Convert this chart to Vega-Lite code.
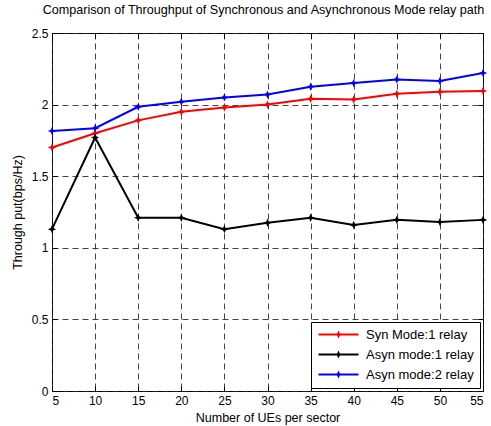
{
  "$schema": "https://vega.github.io/schema/vega-lite/v6.json",
  "width": 431,
  "height": 358,
  "autosize": {"type": "none"},
  "padding": {"left": 52, "top": 33, "right": 8, "bottom": 35},
  "background": "white",
  "title": {
    "text": "Comparison of Throughput of Synchronous and Asynchronous Mode relay path",
    "font": "Liberation Sans",
    "fontSize": 12.6,
    "fontWeight": "normal",
    "color": "black",
    "offset": 10,
    "dx": -4,
    "anchor": "middle"
  },
  "config": {
    "view": {"stroke": "black", "strokeWidth": 1},
    "font": "Liberation Sans",
    "axis": {
      "labelFont": "Liberation Sans",
      "labelFontSize": 12,
      "labelColor": "black",
      "titleFont": "Liberation Sans",
      "titleFontSize": 12.5,
      "titleFontWeight": "normal",
      "titleColor": "black",
      "domain": false,
      "ticks": true,
      "tickColor": "black",
      "tickSize": -5,
      "tickWidth": 1,
      "gridColor": "#222222",
      "gridDash": [6, 4],
      "gridWidth": 1,
      "gridOpacity": 0.85
    }
  },
  "data": {
    "values": [
      {"ue": 5, "series": "Syn Mode:1 relay", "tp": 1.70},
      {"ue": 10, "series": "Syn Mode:1 relay", "tp": 1.80},
      {"ue": 15, "series": "Syn Mode:1 relay", "tp": 1.89},
      {"ue": 20, "series": "Syn Mode:1 relay", "tp": 1.95},
      {"ue": 25, "series": "Syn Mode:1 relay", "tp": 1.98},
      {"ue": 30, "series": "Syn Mode:1 relay", "tp": 2.00},
      {"ue": 35, "series": "Syn Mode:1 relay", "tp": 2.04},
      {"ue": 40, "series": "Syn Mode:1 relay", "tp": 2.035},
      {"ue": 45, "series": "Syn Mode:1 relay", "tp": 2.075},
      {"ue": 50, "series": "Syn Mode:1 relay", "tp": 2.09},
      {"ue": 55, "series": "Syn Mode:1 relay", "tp": 2.095},
      {"ue": 5, "series": "Asyn mode:1 relay", "tp": 1.13},
      {"ue": 10, "series": "Asyn mode:1 relay", "tp": 1.77},
      {"ue": 15, "series": "Asyn mode:1 relay", "tp": 1.21},
      {"ue": 20, "series": "Asyn mode:1 relay", "tp": 1.21},
      {"ue": 25, "series": "Asyn mode:1 relay", "tp": 1.13},
      {"ue": 30, "series": "Asyn mode:1 relay", "tp": 1.175},
      {"ue": 35, "series": "Asyn mode:1 relay", "tp": 1.21},
      {"ue": 40, "series": "Asyn mode:1 relay", "tp": 1.16},
      {"ue": 45, "series": "Asyn mode:1 relay", "tp": 1.195},
      {"ue": 50, "series": "Asyn mode:1 relay", "tp": 1.18},
      {"ue": 55, "series": "Asyn mode:1 relay", "tp": 1.195},
      {"ue": 5, "series": "Asyn mode:2 relay", "tp": 1.815},
      {"ue": 10, "series": "Asyn mode:2 relay", "tp": 1.835},
      {"ue": 15, "series": "Asyn mode:2 relay", "tp": 1.985},
      {"ue": 20, "series": "Asyn mode:2 relay", "tp": 2.02},
      {"ue": 25, "series": "Asyn mode:2 relay", "tp": 2.05},
      {"ue": 30, "series": "Asyn mode:2 relay", "tp": 2.07},
      {"ue": 35, "series": "Asyn mode:2 relay", "tp": 2.125},
      {"ue": 40, "series": "Asyn mode:2 relay", "tp": 2.15},
      {"ue": 45, "series": "Asyn mode:2 relay", "tp": 2.175},
      {"ue": 50, "series": "Asyn mode:2 relay", "tp": 2.165},
      {"ue": 55, "series": "Asyn mode:2 relay", "tp": 2.22}
    ]
  },
  "encoding": {
    "color": {
      "field": "series",
      "type": "nominal",
      "scale": {
        "domain": ["Syn Mode:1 relay", "Asyn mode:1 relay", "Asyn mode:2 relay"],
        "range": ["#ff0000", "#000000", "#0000ff"]
      },
      "legend": {
        "title": null,
        "orient": "bottom-right",
        "offset": 3,
        "strokeColor": "black",
        "fillColor": "white",
        "padding": 6,
        "labelFont": "Liberation Sans",
        "labelFontSize": 13,
        "labelColor": "black",
        "labelOffset": 36,
        "rowPadding": 6,
        "symbolType": "M-1,-0.2L7,-0.2L7,0.2L-1,0.2Z M3,-0.8L3.25,-0.25L3.8,0L3.25,0.25L3,0.8L2.75,0.25L2.2,0L2.75,-0.25Z",
        "symbolSize": 100,
        "symbolStrokeWidth": 0,
        "symbolOpacity": 1,
        "symbolFillColor": null
      }
    }
  },
  "layer": [
    {
      "mark": {"type": "line", "strokeWidth": 2},
      "encoding": {
        "x": {
          "field": "ue",
          "type": "quantitative",
          "scale": {"domain": [5, 55], "nice": false, "zero": false},
          "axis": {
            "orient": "bottom",
            "values": [5, 10, 15, 20, 25, 30, 35, 40, 45, 50, 55],
            "title": "Number of UEs per sector",
            "titlePadding": 5,
            "labelPadding": 9,
            "grid": true
          }
        },
        "y": {
          "field": "tp",
          "type": "quantitative",
          "scale": {"domain": [0, 2.5], "nice": false},
          "axis": {
            "orient": "left",
            "values": [0, 0.5, 1, 1.5, 2, 2.5],
            "format": "~g",
            "title": "Through put(bps/Hz)",
            "titlePadding": 7,
            "labelPadding": 9,
            "grid": true
          }
        }
      }
    },
    {
      "mark": {
        "type": "point",
        "shape": "M0,-1L0.3,-0.3L1,0L0.3,0.3L0,1L-0.3,0.3L-1,0L-0.3,-0.3Z",
        "size": 70,
        "filled": true,
        "opacity": 1
      },
      "encoding": {
        "x": {
          "field": "ue",
          "type": "quantitative",
          "axis": {
            "orient": "top",
            "values": [5, 10, 15, 20, 25, 30, 35, 40, 45, 50, 55],
            "title": null,
            "labels": false,
            "grid": false
          }
        },
        "y": {
          "field": "tp",
          "type": "quantitative",
          "axis": {
            "orient": "right",
            "values": [0, 0.5, 1, 1.5, 2, 2.5],
            "title": null,
            "labels": false,
            "grid": false
          }
        }
      }
    }
  ]
}
